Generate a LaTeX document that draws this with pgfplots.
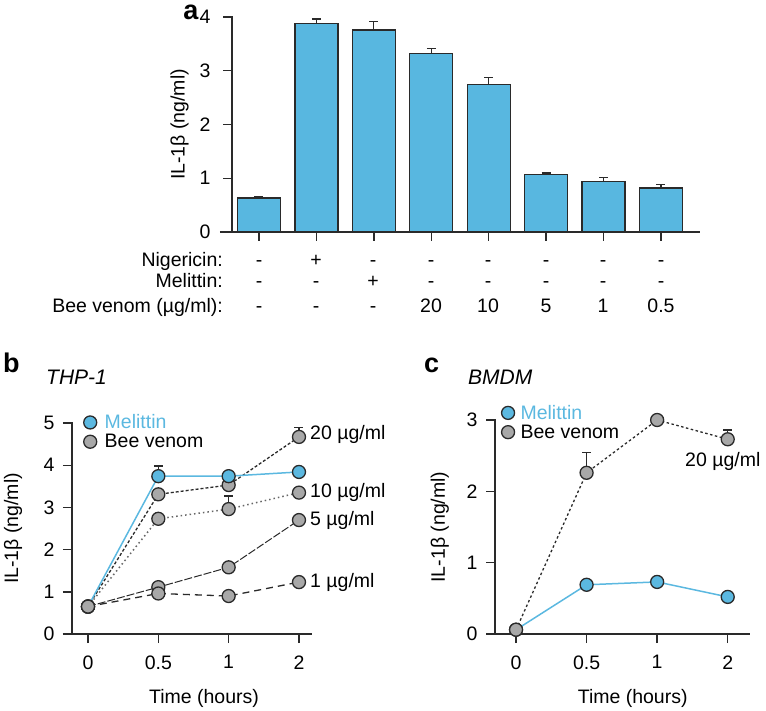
\documentclass[border=0pt]{standalone}
\usepackage{pgfplots}
\pgfplotsset{compat=1.18}
\usepackage{fontspec}
\setmainfont{Liberation Sans}
\definecolor{barblue}{HTML}{58B7E0}
\definecolor{melblue}{HTML}{5BB8E0}
\definecolor{ptgray}{HTML}{A8A8A8}
\definecolor{edge}{HTML}{2A2A2A}
\newcommand{\fs}{\fontsize{19.5}{23}\selectfont}
\pgfplotsset{
  common/.style={
    scale only axis, anchor=south west, clip=false,
    axis line style={draw=none},
    tick pos=left, tick align=outside,
    major tick length=9pt,
    every tick/.style={line width=1.4pt, edge},
    /pgf/number format/assume math mode=true,
    tick label style={font=\fs},
    xticklabel style={yshift=-9pt},
    yticklabel style={xshift=-5pt},
    every axis y label/.style={rotate=90, anchor=center, font=\fs},
    every axis x label/.style={at={(axis description cs:0.55,0)}, anchor=center, yshift=-64pt, font=\fs},
  },
  vmark/.style={mark=*, mark size=6.5pt, mark options={solid, fill=ptgray, draw=edge, line width=1.3pt}},
  mmark/.style={mark=*, mark size=6.5pt, mark options={solid, fill=melblue, draw=edge, line width=1.3pt}},
  ebar/.style={error bars/.cd, y dir=plus, y explicit,
    error bar style={line width=1.3pt, edge, solid},
    error mark options={rotate=90, mark size=4.5pt, line width=1.3pt, edge, solid}},
  leg/.style={legend style={draw=none, fill=none, anchor=north west,
    font=\fs, row sep=0pt, inner sep=0pt},
    legend cell align=left},
}
\tikzset{axisline/.style={line width=1.6pt, edge}}
\begin{document}
\begin{tikzpicture}[x=1pt,y=1pt]
\path[use as bounding box] (0,0) rectangle (766,710);
% ---------------- panel a ----------------
\begin{axis}[common, at={(232pt,478pt)}, width=468pt, height=215pt,
  xmin=-0.47, xmax=7.68, ymin=0, ymax=4,
  xtick={0,...,7}, xticklabels={}, ytick={0,1,2,3,4},
  yticklabel style={xshift=-4pt},
  ylabel={IL-1β (ng/ml)},
  every axis y label/.append style={at={(axis description cs:-0.112,0.5)}}]
\addplot[ybar, bar width=43pt, fill=barblue, draw=edge, line width=1.3pt, ebar]
  table[x=x, y=y, y error=e] {
x y e
0 0.63 0.03
1 3.88 0.08
2 3.76 0.16
3 3.32 0.09
4 2.74 0.13
5 1.07 0.03
6 0.94 0.08
7 0.82 0.07
};
\draw[axisline] (axis cs:-0.68,0) -- (axis cs:7.68,0);
\draw[axisline] (axis cs:-0.47,0) -- (axis cs:-0.47,4.02);
\end{axis}
% row labels under panel a
\begin{scope}[every node/.style={font=\fs, inner sep=0pt, anchor=base}]
\node[anchor=base east] at (223,443) {Nigericin:};
\node[anchor=base east] at (223,422) {Melittin:};
\node[anchor=base east] at (223,397) {Bee venom (µg/ml):};
\foreach \xx/\a/\b/\c in {259/-/-/-, 316/+/-/-, 373/-/+/-, 431/-/-/20, 488/-/-/10, 546/-/-/5, 603/-/-/1, 661/-/-/0.5}{
  \node at (\xx,443) {\a};
  \node at (\xx,422) {\b};
  \node at (\xx,397) {\c};
}
\end{scope}
\node[font=\fontsize{27}{30}\selectfont\bfseries, anchor=base, inner sep=0pt, text height=14pt, text depth=0pt] at (191,690) {a};
% ---------------- panel b ----------------
\node[font=\fontsize{27}{30}\selectfont\bfseries, anchor=base west, inner sep=0pt] at (3,337) {b};
\node[font=\fontsize{21}{25}\selectfont\itshape, anchor=base west, inner sep=0pt] at (46,325) {THP-1};
\begin{axis}[common, leg, at={(72pt,76pt)}, width=240pt, height=211pt,
  xmin=-0.2275, xmax=3.185, ymin=0, ymax=5,
  xtick={0,1,2,3}, xticklabels={0,0.5,1,2}, ytick={0,...,5},
  ylabel={IL-1β (ng/ml)}, xlabel={Time (hours)},
  every axis y label/.append style={at={(axis description cs:-0.246,0.5)}},
  legend style={at={(axis description cs:0.048,1.05)}}]
\addlegendimage{only marks, mmark}
\addlegendentry{\hspace{6pt}\textcolor{melblue}{Melittin}}
\addlegendimage{only marks, vmark}
\addlegendentry{\hspace{6pt}Bee venom}
% 20 ug/ml
\addplot[forget plot, edge, line width=1.3pt, dash pattern=on 3pt off 2pt, vmark, ebar]
  table[x=x, y=y, y error=e] {
x y e
0 0.65 0
1 3.31 0
2 3.53 0
3 4.67 0.22
};
% 10 ug/ml
\addplot[forget plot, black!60, line width=1.5pt, dash pattern=on 1.5pt off 3pt, vmark, ebar]
  table[x=x, y=y, y error=e] {
x y e
0 0.65 0
1 2.73 0
2 2.96 0.31
3 3.35 0
};
% 5 ug/ml
\addplot[forget plot, edge, line width=1pt, dash pattern=on 8pt off 2pt, vmark]
  table {
x y
0 0.65
1 1.11
2 1.58
3 2.70
};
% Melittin
\addplot[forget plot, melblue, line width=1.5pt, mmark, ebar]
  table[x=x, y=y, y error=e] {
x y e
0 0.65 0
1 3.74 0.24
2 3.74 0
3 3.84 0
};
% 1 ug/ml
\addplot[forget plot, edge, line width=1.3pt, dash pattern=on 7pt off 5pt, vmark]
  table {
x y
0 0.65
1 0.96
2 0.90
3 1.23
};
\draw[axisline] (axis cs:-0.356,0) -- (axis cs:3.185,0);
\draw[axisline] (axis cs:-0.2275,0) -- (axis cs:-0.2275,5.03);
\begin{scope}[every node/.style={font=\fs, inner sep=0pt, anchor=west, xshift=11pt}]
\node at (axis cs:3,4.74) {20 µg/ml};
\node at (axis cs:3,3.35) {10 µg/ml};
\node at (axis cs:3,2.70) {5 µg/ml};
\node at (axis cs:3,1.23) {1 µg/ml};
\end{scope}
\end{axis}
% ---------------- panel c ----------------
\node[font=\fontsize{27}{30}\selectfont\bfseries, anchor=base west, inner sep=0pt] at (424,337) {c};
\node[font=\fontsize{21}{25}\selectfont\itshape, anchor=base west, inner sep=0pt] at (468,325) {BMDM};
\begin{axis}[common, leg, at={(495pt,76pt)}, width=255pt, height=214pt,
  xmin=-0.298, xmax=3.316, ymin=0, ymax=3,
  xtick={0,1,2,3}, xticklabels={0,0.5,1,2}, ytick={0,...,3},
  ylabel={IL-1β (ng/ml)}, xlabel={Time (hours)},
  every axis x label/.append style={at={(axis description cs:0.54,0)}},
  every axis y label/.append style={at={(axis description cs:-0.216,0.5)}},
  legend style={at={(axis description cs:0.025,1.08)}}]
\addlegendimage{only marks, mmark}
\addlegendentry{\hspace{4pt}\textcolor{melblue}{Melittin}}
\addlegendimage{only marks, vmark}
\addlegendentry{\hspace{4pt}Bee venom}
% Melittin
\addplot[forget plot, melblue, line width=1.5pt, mmark]
  table {
x y
0 0.06
1 0.69
2 0.73
3 0.52
};
% Bee venom 20 ug/ml
\addplot[forget plot, edge, line width=1.3pt, dash pattern=on 2.5pt off 2.5pt, vmark, ebar]
  table[x=x, y=y, y error=e] {
x y e
0 0.06 0
1 2.26 0.28
2 3.00 0
3 2.73 0.13
};
\draw[axisline] (axis cs:-0.41,0) -- (axis cs:3.316,0);
\draw[axisline] (axis cs:-0.298,0) -- (axis cs:-0.298,3.02);
\node[font=\fs, inner sep=0pt, anchor=north] at (axis cs:2.93,2.73) [yshift=-13pt] {20 µg/ml};
\end{axis}
\end{tikzpicture}
\end{document}
